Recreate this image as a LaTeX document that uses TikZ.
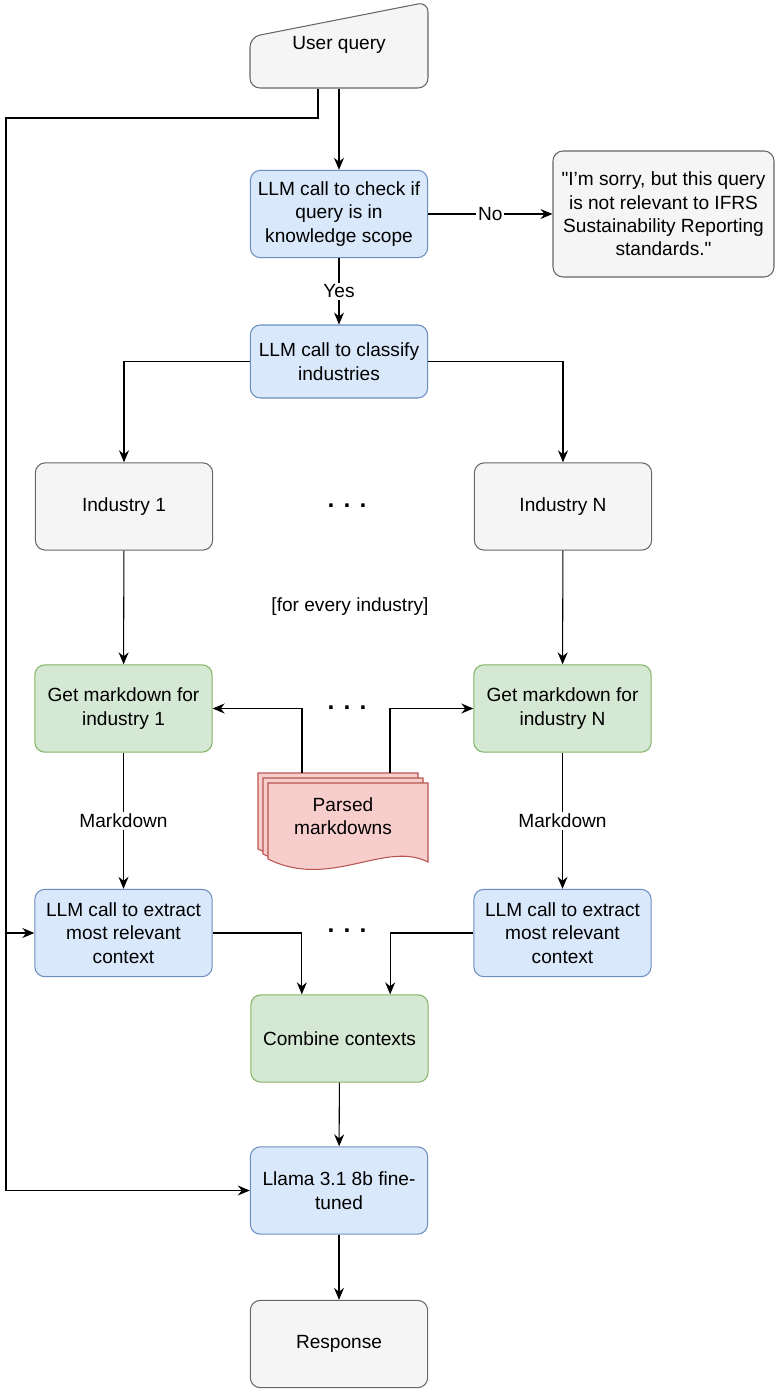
\documentclass[tikz,border=0pt]{standalone}
\usepackage{fontspec}
\setmainfont{Liberation Sans}[Ligatures=TeXOff]
\usetikzlibrary{arrows.meta}

\definecolor{bluefill}{HTML}{DAE8FC}
\definecolor{blueline}{HTML}{6C8EBF}
\definecolor{greenfill}{HTML}{D5E8D4}
\definecolor{greenline}{HTML}{82B366}
\definecolor{greyfill}{HTML}{F5F5F5}
\definecolor{greyline}{HTML}{666666}
\definecolor{redfill}{HTML}{F8CECC}
\definecolor{redline}{HTML}{B85450}

\tikzset{
  >={Stealth[length=3.6mm,width=3mm,inset=1.2mm]},
  box/.style={draw, line width=0.9pt, rounded corners=0.3cm, minimum width=5.32cm, minimum height=2.62cm, align=center},
  llm/.style={box, fill=bluefill, draw=blueline},
  mdbox/.style={box, fill=greenfill, draw=greenline},
  plain/.style={box, fill=greyfill, draw=greyline},
  doc/.style={fill=redfill, draw=redline, line width=0.9pt},
  dots/.style={font=\fontsize{21}{22}\selectfont\bfseries},
  lbl/.style={fill=white, inner sep=1.5pt}
}

\begin{document}
\begin{tikzpicture}[x=0.03cm, y=-0.03cm, line width=0.9pt, font=\fontsize{16.3}{20}\selectfont]
  \useasboundingbox (0,0) rectangle (774,1389);

  % user query (manual input)
  \draw[fill=greyfill, draw=greyline, rounded corners=0.3cm] (250,37) -- (428,2) -- (428,88) -- (250,88) -- cycle;
  \node[minimum width=5.34cm, minimum height=2.58cm] (uq) at (339,45) {User query};

  \node[llm] (check) at (339,214) {LLM call to check if\\query is in\\knowledge scope};
  \node[plain, minimum width=6.63cm, minimum height=3.78cm] (sorry) at (663.5,214)
    {"I’m sorry, but this query\\is not relevant to IFRS\\Sustainability Reporting\\standards."};
  \node[llm, minimum height=2.19cm] (classify) at (339,361.5) {LLM call to classify\\industries};

  \node[plain] (ind1) at (124,506.5) {Industry 1};
  \node[plain] (indN) at (563,506.5) {Industry N};
  \node[dots] (dots1) at (347,506) {. . .};
  \node (every) at (350,607) {[for every industry]};

  \node[mdbox] (get1) at (123.5,708.5) {Get markdown for\\industry 1};
  \node[mdbox] (getN) at (562.5,708.5) {Get markdown for\\industry N};
  \node[dots] (dots2) at (347,708) {. . .};

  % parsed markdowns, three stacked pages
  \foreach \d in {0,5,10}{
    \draw[doc] (258+\d,773+\d) -- (418+\d,773+\d) -- (418+\d,852+\d)
      .. controls (375+\d,830+\d) and (320+\d,880+\d) .. (258+\d,849+\d) -- cycle;
  }
  \node[align=center] (docs) at (343,816) {Parsed\\markdowns};
  \coordinate (docL) at (302,773);
  \coordinate (docR) at (390,773);

  \node[llm] (ext1) at (123.5,933) {LLM call to extract\\most relevant\\context};
  \node[llm] (extN) at (562.5,933) {LLM call to extract\\most relevant\\context};
  \node[dots] (dots3) at (347,931) {. . .};

  \node[mdbox] (combine) at (339.5,1038.5) {Combine contexts};
  \node[llm] (llama) at (339,1190.5) {Llama 3.1 8b fine-\\tuned};
  \node[plain] (resp) at (339,1344) {Response};

  % connectors
  \coordinate (bus) at (6,118);
  \draw[->] (uq.south) -- (check);
  \draw[->] ([xshift=-0.63cm]uq.south) |- (bus) |- (llama.west);
  \draw[->] (bus |- ext1.west) -- (ext1.west);
  \draw[->] (check) -- node[lbl] {No} (sorry);
  \draw[->] (check) -- node[lbl] {Yes} (classify);
  \draw[->] (classify.west) -| (ind1);
  \draw[->] (classify.east) -| (indN);
  \draw[->] (ind1) -- (get1);
  \draw[->] (indN) -- (getN);
  \draw[->] (docL) |- (get1.east);
  \draw[->] (docR) |- (getN.west);
  \draw[->] (get1) -- node[lbl] {Markdown} (ext1);
  \draw[->] (getN) -- node[lbl] {Markdown} (extN);
  \draw[->] (ext1.east) -| ([xshift=-1.13cm]combine.north);
  \draw[->] (extN.west) -| ([xshift=1.52cm]combine.north);
  \draw[->] (combine) -- (llama);
  \draw[->] (llama) -- (resp);
\end{tikzpicture}
\end{document}
